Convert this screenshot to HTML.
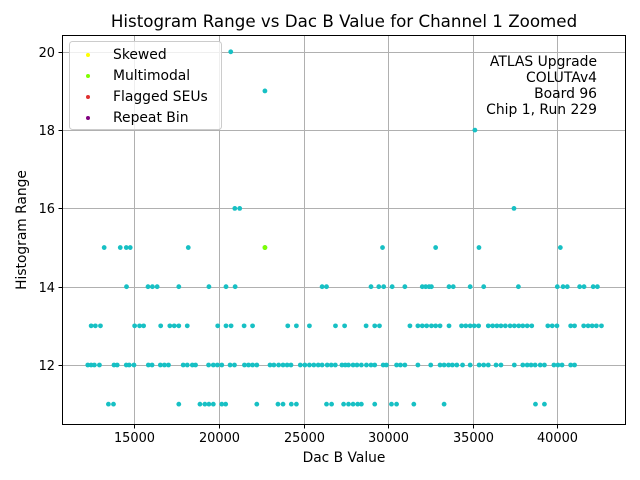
<!DOCTYPE html>
<html><head><meta charset="utf-8"><style>
body{margin:0;background:#fff;}
svg{display:block;font-family:"DejaVu Sans","Liberation Sans",sans-serif;}
</style></head><body>
<svg id="chart" width="640" height="480">
<rect width="640" height="480" fill="#fff"/>
<text x="344" y="27" text-anchor="middle" font-size="16.7">Histogram Range vs Dac B Value for Channel 1 Zoomed</text>
<g id="grid"></g><g id="pts"></g>
<rect x="62.5" y="35.5" width="563" height="389" fill="none" stroke="#000" stroke-width="1"/>
<g id="ticks" font-size="12.9"></g>
<text x="344" y="462" text-anchor="middle" font-size="13.8">Dac B Value</text>
<text transform="translate(26,230) rotate(-90)" text-anchor="middle" font-size="13.8">Histogram Range</text>
<g>
<rect x="69.5" y="41.5" width="152" height="88" rx="3" fill="#fff" fill-opacity="0.8" stroke="#ccc"/>
<g><circle cx="88" cy="55" r="2" fill="#ffff00"/><text x="113" y="59" font-size="13.9">Skewed</text></g>
<g><circle cx="88" cy="76" r="2" fill="#7fff00"/><text x="113" y="80" font-size="13.9">Multimodal</text></g>
<g><circle cx="88" cy="97" r="2" fill="#e03030"/><text x="113" y="101" font-size="13.9">Flagged SEUs</text></g>
<g><circle cx="88" cy="118" r="2" fill="#800080"/><text x="113" y="122" font-size="13.9">Repeat Bin</text></g>
</g>
<g font-size="13.9" text-anchor="end">
<text x="597" y="66">ATLAS Upgrade</text>
<text x="597" y="82">COLUTAv4</text>
<text x="597" y="98">Board 96</text>
<text x="597" y="114">Chip 1, Run 229</text>
</g>
</svg>
<script>
const xTicks=[15000,20000,25000,30000,35000,40000];
const yTicks=[12,14,16,18,20];
const dacB11=[13470,13770,17630,18880,19170,19410,19670,20170,20400,22240,23490,23790,24280,24580,26360,26660,27370,27660,27930,28200,28420,29210,30200,30500,31520,33310,38710,39240];
const dacB12=[12250,12450,12640,12940,13800,13990,14525,14700,14980,15830,16050,16540,16780,17020,17890,18130,18430,18620,19390,19670,19910,20170,20660,20920,21510,21750,21990,22240,23020,23250,23530,23790,24030,24260,24810,25080,25350,25610,25870,26100,26400,26640,26880,27270,27470,27660,27930,28160,28420,28720,28990,29210,29710,29900,30500,30730,30990,31760,32520,33070,33310,33570,33800,34060,34400,34850,35380,35650,35920,36380,36670,37460,37960,38220,38450,38690,38990,39240,39800,40040,40280,40790,41020];
const dacB13=[12450,12700,13000,15020,15310,15550,16560,17100,17360,17630,18130,19930,20420,20720,21490,21990,24070,24580,25350,26890,27430,28700,29210,29490,31290,31760,32020,32280,32560,32810,33070,33600,34340,34590,34850,35090,35350,35920,36180,36430,36670,36930,37210,37460,37720,37960,38220,38490,39440,39700,39980,40790,41020,41560,41820,42060,42310,42610];
const dacB14=[14540,15810,16070,16350,17630,19410,20420,20960,26100,26360,28990,29450,29740,30240,30990,32020,32220,32420,32560,33600,33850,34850,35650,37700,40000,40340,40590,41320,41580,42120,42370];
const dacB15=[13220,14170,14525,14760,18190,22720,29670,32810,35370,40180];
const dacB16=[20940,21230,37440];
const dacB18=[35130];
const dacB19=[22720];
const dacB20=[20700];
const multimodalX=[22720];
const multimodalY=[15];
const NS='http://www.w3.org/2000/svg';
function sx(v){return 134.3+(v-15000)*0.01692;}
function sy(v){return 365-(v-12)*39.15;}
const grid=document.getElementById('grid'),ticks=document.getElementById('ticks'),pts=document.getElementById('pts');
function mk(t,a){const e=document.createElementNS(NS,t);for(const k in a)e.setAttribute(k,a[k]);return e;}
xTicks.forEach(v=>{
  const x=Math.round(sx(v))+0.5;
  const g=mk('line',{x1:x,x2:x,y1:35,y2:425,stroke:'#b0b0b0','stroke-width':1});
  
  
  grid.appendChild(g);
  const tk=mk('line',{x1:x,x2:x,y1:425,y2:428.5,stroke:'#000'});
  
  
  ticks.appendChild(tk);
  const t=mk('text',{x:x,y:442,'text-anchor':'middle'});t.textContent=v;
  
  
  ticks.appendChild(t);
});
yTicks.forEach(v=>{
  const y=Math.round(sy(v))+0.5;
  const g=mk('line',{x1:62,x2:626,y1:y,y2:y,stroke:'#b0b0b0','stroke-width':1});
  
  
  grid.appendChild(g);
  const tk=mk('line',{x1:58.5,x2:62,y1:y,y2:y,stroke:'#000'});
  
  
  ticks.appendChild(tk);
  const t=mk('text',{x:55,y:y+4.5,'text-anchor':'end'});t.textContent=v;
  
  
  ticks.appendChild(t);
});
const rows=[[11,dacB11],[12,dacB12],[13,dacB13],[14,dacB14],[15,dacB15],[16,dacB16],[18,dacB18],[19,dacB19],[20,dacB20]];
rows.forEach(([r,arr])=>arr.forEach(v=>{
  const c=mk('circle',{cx:sx(v),cy:sy(r),r:2.4,fill:'#17c0c4'});
  
  
  pts.appendChild(c);
}));
multimodalX.forEach((v,i)=>{
  const c=mk('circle',{cx:sx(v),cy:sy(multimodalY[i]),r:2.4,fill:'#7fff00'});
  
  
  pts.appendChild(c);
});
</script>
</body></html>
